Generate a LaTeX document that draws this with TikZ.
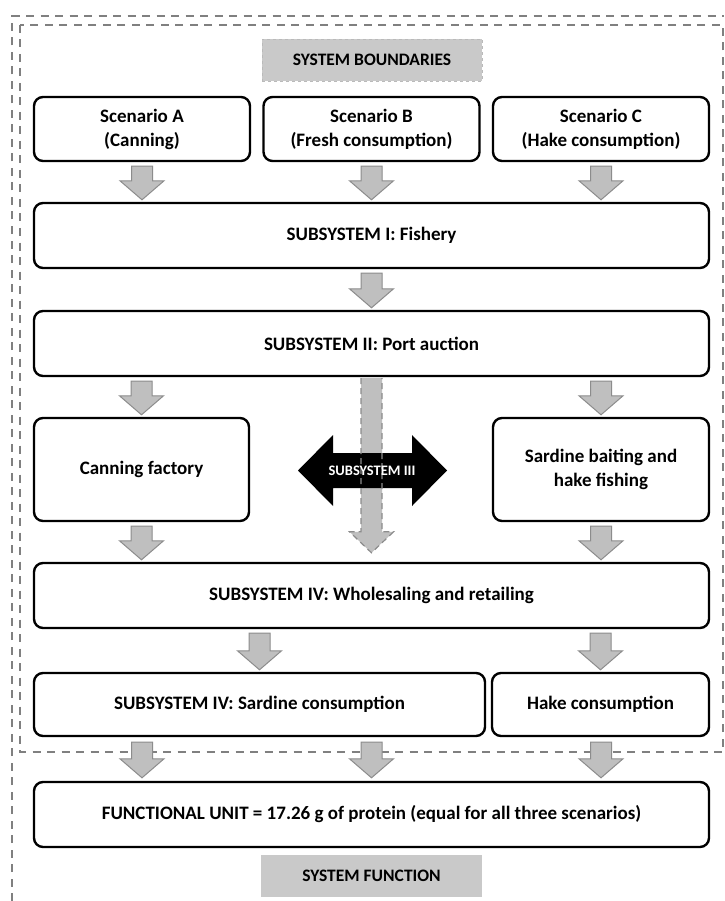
\documentclass[tikz,border=0pt]{standalone}
\usepackage{fontspec}
\setmainfont{Carlito}
\usetikzlibrary{calc}
\definecolor{arrfill}{HTML}{BFBFBF}
\definecolor{arrline}{HTML}{8C8C8C}
\definecolor{boxgray}{HTML}{C9C9C9}
\definecolor{dashgray}{HTML}{808080}
\tikzset{
  stagebox/.style={draw=black, line width=2.4pt, rounded corners=9pt, fill=white,
    font=\bfseries\fontsize{19}{24}\selectfont, align=center, inner sep=0pt},
  graylabel/.style={fill=boxgray, font=\bfseries\fontsize{17.5}{20}\selectfont, inner sep=0pt,
    minimum width=221pt, minimum height=42pt},
  boundline/.style={draw=dashgray, line width=1.3pt, dash pattern=on 8pt off 6.5pt},
  flowarr/.style={fill=arrfill, draw=arrline, line width=1pt, line join=miter},
  sublabel/.style={font=\bfseries\fontsize{14.5}{16}\selectfont, text=white, inner sep=0pt},
}
\newcommand\flowarrow[2]{%
  \path[flowarr] let \p1=#1, \p2=#2 in
    (\x1-10.5pt,\y1) -- (\x1+10.5pt,\y1) -- (\x1+10.5pt,\y2+19pt) -- (\x1+22pt,\y2+19pt)
    -- (\x1,\y2) -- (\x1-22pt,\y2+19pt) -- (\x1-10.5pt,\y2+19pt) -- cycle;}
\begin{document}
\begin{tikzpicture}[x=1pt,y=-1pt]
\useasboundingbox (0,0) rectangle (724,901);
\fill[white] (0,0) rectangle (724,901);
% boundaries
\draw[boundline] (12,901) -- (12,16) -- (724,16);
\draw[boundline] (20,25) rectangle (723,752);

\node[graylabel, draw=boxgray!80!gray, dashed, line width=0.8pt, minimum width=220pt] (sb) at (372,60) {SYSTEM BOUNDARIES};

\node[stagebox, minimum width=216pt, minimum height=64pt] (scA) at (142,129) {Scenario A\\(Canning)};
\node[stagebox, minimum width=216pt, minimum height=64pt] (scB) at (371.5,129) {Scenario B\\(Fresh consumption)};
\node[stagebox, minimum width=216pt, minimum height=64pt] (scC) at (601,129) {Scenario C\\(Hake consumption)};

\node[stagebox, minimum width=675pt, minimum height=65pt] (sub1) at (371.5,235.5) {SUBSYSTEM I: Fishery};
\node[stagebox, minimum width=675pt, minimum height=65pt] (sub2) at (371.5,343.5) {SUBSYSTEM II: Port auction};

\node[stagebox, minimum width=215pt, minimum height=103pt] (can) at (141.5,469.5) {Canning factory};
\node[stagebox, minimum width=216pt, minimum height=103pt] (bait) at (601,469.5) {Sardine baiting and\\hake fishing};

\node[stagebox, minimum width=675pt, minimum height=65pt] (whole) at (371.5,595.5) {SUBSYSTEM IV: Wholesaling and retailing};

\node[stagebox, minimum width=451pt, minimum height=63pt] (sard) at (259.5,704.5) {SUBSYSTEM IV: Sardine consumption};
\node[stagebox, minimum width=217pt, minimum height=63pt] (hake) at (600.5,704.5) {Hake consumption};

\node[stagebox, minimum width=675pt, minimum height=65pt] (fu) at (371.5,814.5) {FUNCTIONAL UNIT = 17.26 g of protein (equal for all three scenarios)};

\node[graylabel] (sf) at (371.5,876) {SYSTEM FUNCTION};

% flow arrows
\flowarrow{($(scA.south)+(0,4)$)}{($(sub1.north -| scA.south)+(0,-2)$)}
\flowarrow{($(scB.south)+(0,4)$)}{($(sub1.north -| scB.south)+(0,-2)$)}
\flowarrow{($(scC.south)+(0,4)$)}{($(sub1.north -| scC.south)+(0,-2)$)}
\flowarrow{($(sub1.south)+(0,4)$)}{($(sub2.north)+(0,-2)$)}
\flowarrow{($(sub2.south -| can.north)+(0,4)$)}{($(can.north)+(0,-2)$)}
\flowarrow{($(sub2.south -| bait.north)+(0,4)$)}{($(bait.north)+(0,-2)$)}
\flowarrow{($(can.south)+(0,4)$)}{($(whole.north -| can.south)+(0,-2)$)}
\flowarrow{($(bait.south)+(0,4)$)}{($(whole.north -| bait.south)+(0,-2)$)}
\flowarrow{($(whole.south -| sard.north)+(0,4)$)}{($(sard.north)+(0,-2)$)}
\flowarrow{($(whole.south -| hake.north)+(0,4)$)}{($(hake.north)+(0,-2)$)}
\flowarrow{($(sard.south -| scA.south)+(0,5)$)}{($(fu.north -| scA.south)+(0,-3)$)}
\flowarrow{($(sard.south -| scB.south)+(0,5)$)}{($(fu.north -| scB.south)+(0,-3)$)}
\flowarrow{($(hake.south -| scC.south)+(0,5)$)}{($(fu.north -| scC.south)+(0,-3)$)}

% subsystem III: dashed vertical arrow behind black double arrow
\coordinate (vtop) at ($(sub2.south)+(0,1)$);
\coordinate (vtip) at ($(whole.north)+(0,-9)$);
\path[fill=arrfill] let \p1=(vtop), \p2=(vtip) in
    (\x1-10.5pt,\y1) -- (\x1+10.5pt,\y1) -- (\x1+10.5pt,\y2+21pt) -- (\x1+22pt,\y2+21pt)
    -- (\x1,\y2) -- (\x1-22pt,\y2+21pt) -- (\x1-10.5pt,\y2+21pt) -- cycle;
\fill[black] (298,470.5) -- (333,435) -- (333,453) -- (412,453) -- (412,435) -- (447,470.5)
   -- (412,506) -- (412,488) -- (333,488) -- (333,506) -- cycle;
\path[draw=arrline, line width=1.2pt, dash pattern=on 6pt off 4pt, line join=miter] let \p1=(vtop), \p2=(vtip) in
    (\x1-10.5pt,\y1) -- (\x1-10.5pt,\y2+21pt) -- (\x1-22pt,\y2+21pt) -- (\x1,\y2)
    -- (\x1+22pt,\y2+21pt) -- (\x1+10.5pt,\y2+21pt) -- (\x1+10.5pt,\y1);
\node[sublabel] (sub3) at (372,470.5) {SUBSYSTEM III};
\end{tikzpicture}
\end{document}
